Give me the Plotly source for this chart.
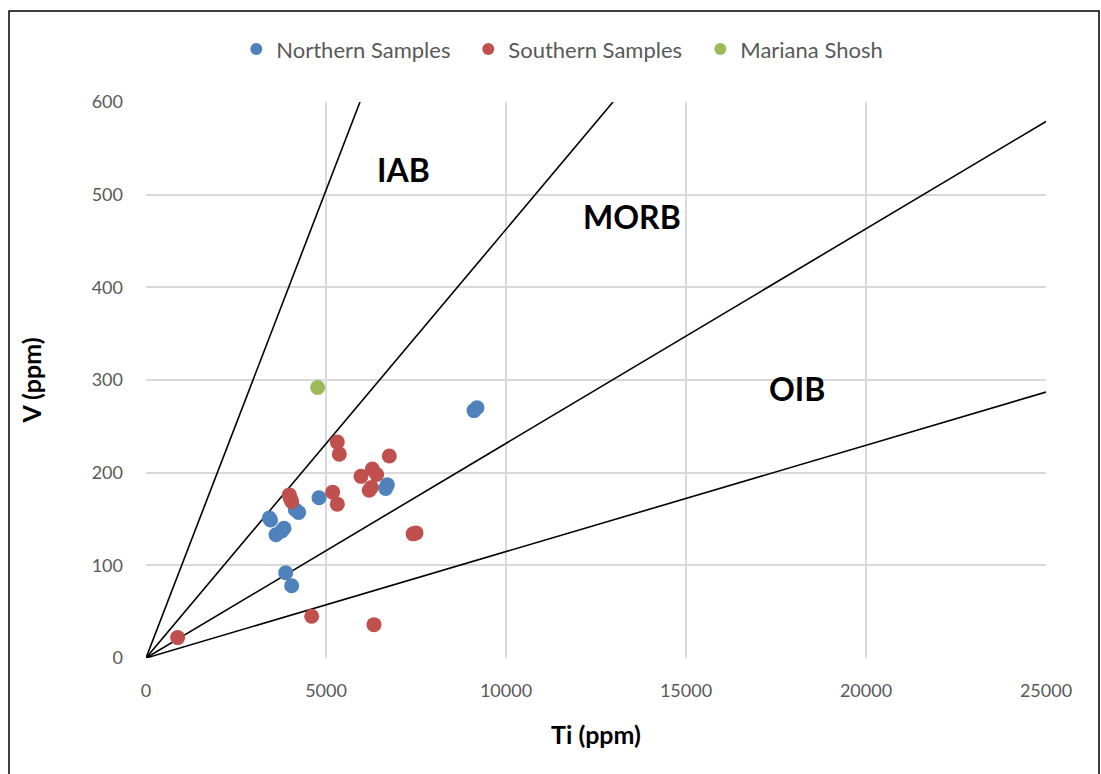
import plotly.graph_objects as go

# Data (Ti ppm, V ppm)
north_ti = [4806, 6704, 6658, 3426, 3460, 4150, 4240, 3833, 3769, 3611, 3880, 4046, 9111, 9194]
north_v = [173, 187, 183, 151, 149, 160, 157, 140, 137, 133, 92, 78, 267, 270]

south_ti = [5315, 5370, 6759, 5972, 6287, 6407, 6200, 6260, 3981, 4010, 4046, 5185, 5315, 7420, 7500, 4602, 6333, 880]
south_v = [233, 220, 218, 196, 204, 198, 181, 184, 176, 172, 169, 179, 166, 134, 135, 45, 36, 22]

shosh_ti = [4769]
shosh_v = [292]

# Discrimination lines: from origin to endpoint
line_names = ["IAB/MORB", "MORB/BAB", "MORB/OIB", "OIB"]
line_end_ti = [5944, 12972, 25000, 25000]
line_end_v = [600, 600, 579, 287]

# Field labels
field_labels = ["IAB", "MORB", "OIB"]
field_ti = [7140, 13500, 18080]
field_v = [527, 476, 291]

x_ticks = [0, 5000, 10000, 15000, 20000, 25000]
y_ticks = [0, 100, 200, 300, 400, 500, 600]

fig = go.Figure()

for name, xe, ye in zip(line_names, line_end_ti, line_end_v):
    fig.add_trace(go.Scatter(x=[0, xe], y=[0, ye], mode="lines",
                             line=dict(color="black", width=1.6),
                             showlegend=False, hoverinfo="skip", name=name))

marker_common = dict(size=15, line=dict(width=0))
fig.add_trace(go.Scatter(x=north_ti, y=north_v, mode="markers", name="Northern Samples",
                         marker=dict(color="#4F81BD", **marker_common)))
fig.add_trace(go.Scatter(x=south_ti, y=south_v, mode="markers", name="Southern Samples",
                         marker=dict(color="#C0504D", **marker_common)))
fig.add_trace(go.Scatter(x=shosh_ti, y=shosh_v, mode="markers", name="Mariana Shosh",
                         marker=dict(color="#9BBB59", **marker_common)))

for t, xv, yv in zip(field_labels, field_ti, field_v):
    fig.add_annotation(x=xv, y=yv, text="<b>%s</b>" % t, showarrow=False,
                       font=dict(size=32, color="black", family="Lato"))

# Outer chart border
fig.add_shape(type="rect", xref="paper", yref="paper",
              x0=-0.1522, x1=1.0589, y0=-0.22, y1=1.1637,
              line=dict(color="black", width=1.5), fillcolor="rgba(0,0,0,0)")

axis_common = dict(showgrid=True, gridcolor="#D9D9D9", gridwidth=1.5,
                   zeroline=False, showline=False, ticks="",
                   tickfont=dict(size=18, color="#595959", family="Lato"))

fig.update_layout(
    width=1101, height=774,
    margin=dict(l=146, r=55, t=102, b=116),
    paper_bgcolor="white", plot_bgcolor="white",
    font=dict(family="Lato", color="#595959"),
    showlegend=True,
    legend=dict(orientation="h", x=0.487, xanchor="center", y=1.095, yanchor="middle",
                font=dict(size=22, color="#595959", family="Lato"),
                itemsizing="constant", itemwidth=30, tracegroupgap=0,
                entrywidth=187, entrywidthmode="pixels"),
    xaxis=dict(range=[0, 25000], tickvals=x_ticks, ticktext=[str(v) for v in x_ticks],
               title=dict(text="<b>Ti (ppm)</b>", font=dict(size=25, color="black", family="Lato"), standoff=26),
               ticklabelstandoff=20, **axis_common),
    yaxis=dict(range=[0, 600], tickvals=y_ticks, ticktext=[str(v) for v in y_ticks],
               title=dict(text="<b>V (ppm)</b>", font=dict(size=25, color="black", family="Lato"), standoff=42),
               ticklabelstandoff=22, **axis_common),
)

fig.write_html("out.html")
